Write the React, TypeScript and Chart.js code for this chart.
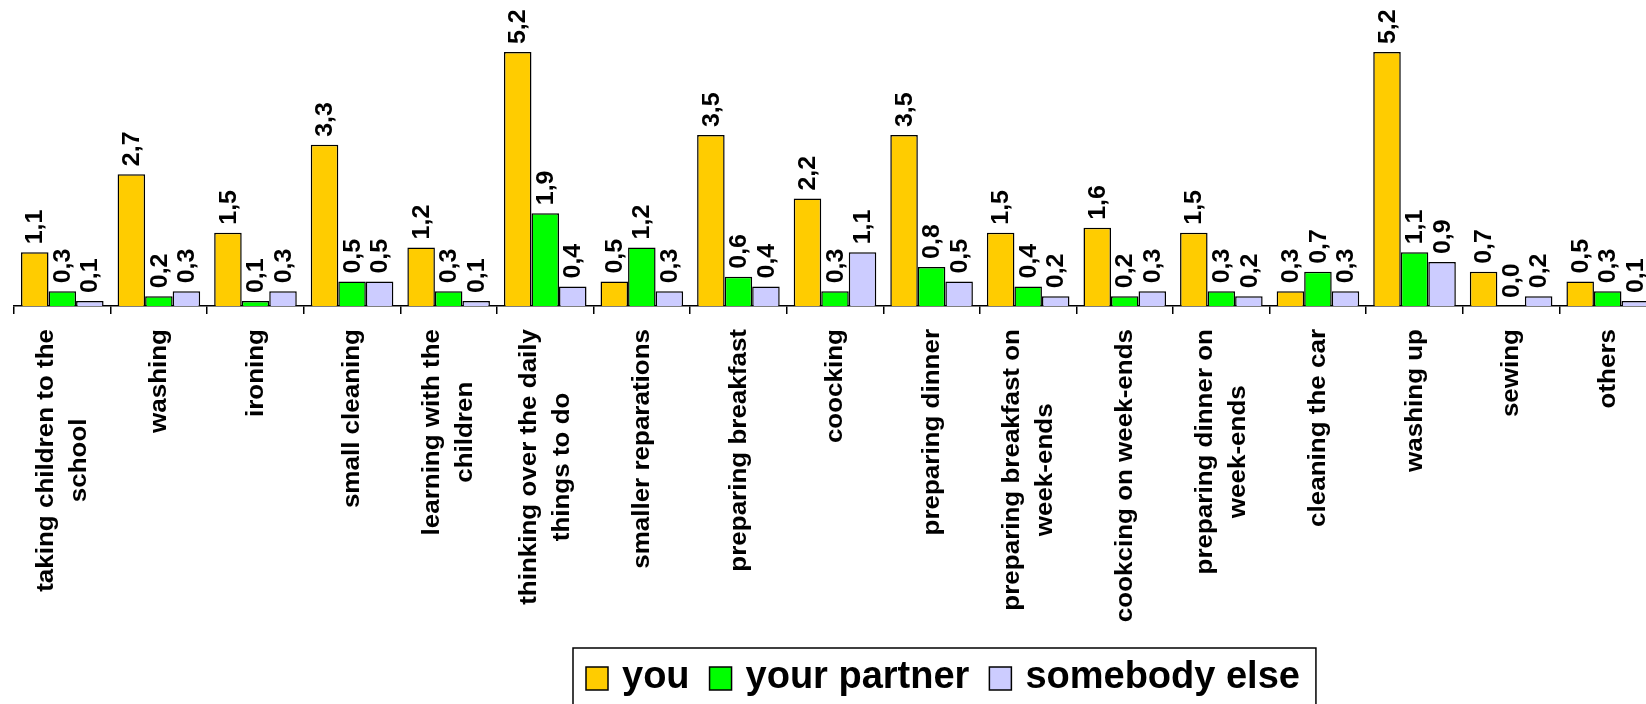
import React, { useEffect, useRef } from "react";
import { Chart, registerables } from "chart.js";

Chart.register(...registerables);

const categoryLines: string[][] = [
  ["taking children to the", "school"],
  ["washing"],
  ["ironing"],
  ["small cleaning"],
  ["learning with the", "children"],
  ["thinking over the daily", "things to do"],
  ["smaller reparations"],
  ["preparing breakfast"],
  ["coocking"],
  ["preparing dinner"],
  ["preparing breakfast on", "week-ends"],
  ["cookcing on week-ends"],
  ["preparing dinner on", "week-ends"],
  ["cleaning the car"],
  ["washing up"],
  ["sewing"],
  ["others"],
];

const seriesNames = ["you", "your partner", "somebody else"];
const youValues = [1.1, 2.7, 1.5, 3.3, 1.2, 5.2, 0.5, 3.5, 2.2, 3.5, 1.5, 1.6, 1.5, 0.3, 5.2, 0.7, 0.5];
const partnerValues = [0.3, 0.2, 0.1, 0.5, 0.3, 1.9, 1.2, 0.6, 0.3, 0.8, 0.4, 0.2, 0.3, 0.7, 1.1, 0.0, 0.3];
const elseValues = [0.1, 0.3, 0.3, 0.5, 0.1, 0.4, 0.3, 0.4, 1.1, 0.5, 0.2, 0.3, 0.2, 0.3, 0.9, 0.2, 0.1];
const seriesColors = ["#FFCC00", "#00FF00", "#CCCCFF"];
const yMax = 6;

const FONT = '"Liberation Sans", Arial, Helvetica, sans-serif';

const labelsPlugin = {
  id: "customLabels",
  afterDraw(chart: any) {
    const ctx: CanvasRenderingContext2D = chart.ctx;
    const area = chart.chartArea;
    ctx.save();
    ctx.fillStyle = "#000";

    // value labels
    ctx.font = `bold 24px ${FONT}`;
    chart.data.datasets.forEach((ds: any, di: number) => {
      const meta = chart.getDatasetMeta(di);
      meta.data.forEach((el: any, i: number) => {
        const v = ds.data[i] as number;
        const txt = v.toFixed(1).replace(".", ",");
        ctx.save();
        ctx.translate(el.x + 1, el.y - 8);
        ctx.scale(1, 1.04);
        ctx.rotate(-Math.PI / 2);
        ctx.textAlign = "left";
        ctx.textBaseline = "middle";
        ctx.fillText(txt, 0, 0);
        ctx.restore();
      });
    });

    // category labels
    const xScale = chart.scales.x;
    ctx.font = `bold 23px ${FONT}`;
    const lh = 33;
    categoryLines.forEach((lines, i) => {
      const x = xScale.getPixelForValue(i);
      const y = area.bottom + 23;
      const maxW = Math.max(...lines.map((l) => ctx.measureText(l).width));
      ctx.save();
      ctx.translate(x, y);
      ctx.scale(1, 1.13);
      ctx.rotate(-Math.PI / 2);
      ctx.textAlign = "center";
      ctx.textBaseline = "middle";
      lines.forEach((line, j) => {
        const off = (j - (lines.length - 1) / 2) * lh;
        ctx.fillText(line, -maxW / 2, off + 1);
      });
      ctx.restore();
    });

    // legend
    ctx.font = `bold 38px ${FONT}`;
    const boxLeft = 573;
    const boxTop = 648;
    const sq = 22;
    let cx = boxLeft + 13;
    const items: { sx: number; tx: number; w: number }[] = [];
    seriesNames.forEach((name) => {
      const w = ctx.measureText(name).width;
      items.push({ sx: cx, tx: cx + sq + 14, w });
      cx = cx + sq + 14 + w + 20;
    });
    const boxRight = cx - 20 + 16;
    ctx.lineWidth = 1.5;
    ctx.strokeStyle = "#000";
    ctx.strokeRect(boxLeft, boxTop, boxRight - boxLeft, 100);
    items.forEach((it, k) => {
      ctx.fillStyle = seriesColors[k];
      ctx.fillRect(it.sx, 667, sq, 23);
      ctx.strokeStyle = "#000";
      ctx.lineWidth = 1.5;
      ctx.strokeRect(it.sx, 667, sq, 23);
      ctx.fillStyle = "#000";
      ctx.textAlign = "left";
      ctx.textBaseline = "alphabetic";
      ctx.fillText(seriesNames[k], it.tx, 688);
    });
    ctx.restore();
  },
};

export default function App() {
  const ref = useRef<HTMLCanvasElement | null>(null);

  useEffect(() => {
    if (!ref.current) return;
    const values = [youValues, partnerValues, elseValues];
    const chart = new Chart(ref.current, {
      type: "bar",
      data: {
        labels: categoryLines.map((l) => l.join(" ")),
        datasets: seriesNames.map((name, k) => ({
          label: name,
          data: values[k],
          backgroundColor: seriesColors[k],
          borderColor: "#000",
          borderWidth: 1.5,
          borderSkipped: "bottom" as const,
          categoryPercentage: 0.855,
          barPercentage: 1.0,
        })),
      },
      options: {
        responsive: false,
        animation: false,
        devicePixelRatio: 1,
        layout: { padding: { left: 14, right: 4, top: 13, bottom: 390 } },
        plugins: {
          legend: { display: false },
          tooltip: { enabled: false },
          title: { display: false },
        },
        scales: {
          x: {
            offset: true,
            ticks: { display: false },
            grid: {
              display: true,
              offset: true,
              drawOnChartArea: false,
              drawTicks: true,
              tickLength: 8,
              color: "#000",
              lineWidth: 1.5,
            },
            border: { display: true, color: "#000", width: 1.5 },
          },
          y: {
            display: false,
            min: 0,
            max: yMax,
          },
        },
      },
      plugins: [labelsPlugin],
    });
    return () => chart.destroy();
  }, []);

  return (
    <div
      style={{
        position: "fixed",
        left: 0,
        top: 0,
        width: 1646,
        height: 704,
        overflow: "hidden",
        background: "#fff",
      }}
    >
      <canvas ref={ref} width={1660} height={704} style={{ display: "block" }} />
    </div>
  );
}
